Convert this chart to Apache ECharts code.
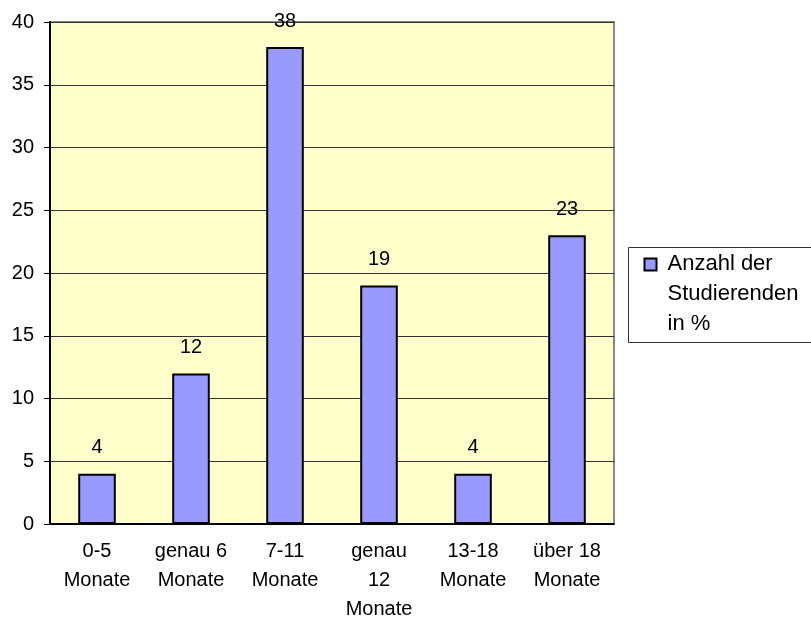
<!DOCTYPE html>
<html>
<head>
<meta charset="utf-8">
<script src="https://cdn.jsdelivr.net/npm/echarts@6/dist/echarts.min.js"></script>
<style>
  html, body { margin: 0; padding: 0; background: #fff; }
  #chart { width: 811px; height: 624px; }
</style>
</head>
<body>
<div id="chart"></div>
<script>
// Dauer in Monaten
const categories = ['0-5\nMonate', 'genau 6\nMonate', '7-11\nMonate', 'genau\n12\nMonate', '13-18\nMonate', 'über 18\nMonate'];
const seriesName = 'Anzahl der Studierenden in %';
const values = [4, 12, 38, 19, 4, 23];
const yTicks = [0, 5, 10, 15, 20, 25, 30, 35, 40];

const FONT = '"Liberation Sans", Arial, sans-serif';

const chart = echarts.init(document.getElementById('chart'));
chart.setOption({
    animation: false,
    textStyle: { fontFamily: FONT },
    grid: {
        left: 50,
        top: 22,
        right: 197,
        bottom: 99,
        show: true,
        backgroundColor: '#FFFFCC',
        borderColor: '#888888',
        borderWidth: 2
    },
    xAxis: {
        type: 'category',
        data: categories,
        axisLine: { lineStyle: { color: '#000', width: 2 } },
        axisTick: { length: 6, lineStyle: { color: '#000', width: 1 } },
        axisLabel: {
            color: '#000',
            fontSize: 20,
            lineHeight: 29,
            margin: 13,
            interval: 0,
            fontFamily: FONT
        }
    },
    yAxis: {
        type: 'value',
        min: yTicks[0],
        max: yTicks[yTicks.length - 1],
        interval: 5,
        axisLine: { show: true, lineStyle: { color: '#000', width: 2 } },
        axisTick: { show: true, length: 6, lineStyle: { color: '#000', width: 1 } },
        axisLabel: { color: '#000', fontSize: 20, margin: 16, fontFamily: FONT },
        splitLine: { lineStyle: { color: '#333', width: 1 } }
    },
    series: [{
        name: seriesName,
        type: 'bar',
        data: values,
        barWidth: '40%',
        itemStyle: { color: '#9999FF', borderColor: '#000', borderWidth: 2 },
        label: {
            show: true,
            position: 'top',
            distance: 16,
            color: '#000',
            fontSize: 20,
            fontFamily: FONT
        }
    }],
    graphic: [{
        type: 'group',
        left: 628,
        top: 247,
        children: [
            {
                type: 'rect',
                shape: { x: 0, y: 0, width: 220, height: 95 },
                style: { fill: '#fff', stroke: '#333', lineWidth: 1 }
            },
            {
                type: 'rect',
                shape: { x: 16, y: 11, width: 12, height: 12 },
                style: { fill: '#9999FF', stroke: '#000', lineWidth: 2 }
            },
            {
                type: 'text',
                x: 39,
                y: 1,
                style: {
                    text: 'Anzahl der\nStudierenden\nin %',
                    font: '22px ' + FONT,
                    lineHeight: 30,
                    fill: '#000'
                }
            }
        ]
    }]
});
</script>
</body>
</html>
